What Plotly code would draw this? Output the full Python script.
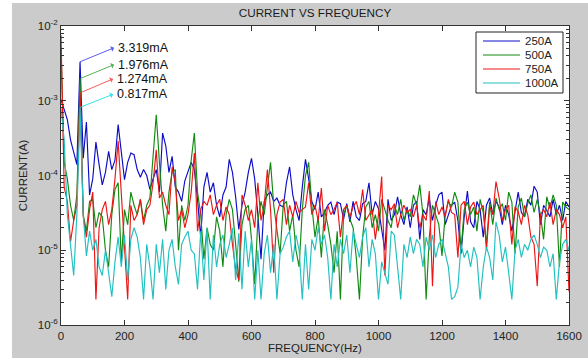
import math
import plotly.graph_objects as go

# ---------------- data (currents in microamps, 10 Hz steps) ----------------
freq_hz = list(range(0, 1601, 10))
series_names = ["250A", "500A", "750A", "1000A"]

blue_uA = [
    1040, 780, 560, 300, 200, 140, 3319, 170, 520, 55,
    90, 280, 140, 75, 110, 210, 120, 160, 480, 200,
    88, 150, 200, 190, 120, 95, 120, 100, 65, 90,
    120, 60, 370, 250, 110, 180, 70, 60, 45, 85,
    110, 150, 120, 48, 15, 70, 110, 60, 80, 40,
    28, 55, 70, 164, 110, 52, 19, 40, 60, 110,
    170, 90, 30, 7.6, 45, 55, 60, 45, 50, 40,
    38, 80, 130, 55, 35, 25, 70, 164, 90, 45,
    35, 60, 28, 32, 40, 44, 30, 44, 42, 26,
    42, 24, 45, 28, 25, 42, 45, 80, 30, 45,
    36, 18, 10, 48, 25, 30, 52, 30, 22, 38,
    20, 40, 45, 14, 35, 30, 50, 25, 40, 55,
    60, 22, 30, 40, 44, 25, 9, 28, 62, 24,
    20, 45, 35, 15, 40, 50, 30, 45, 38, 22,
    40, 30, 18, 35, 60, 32, 28, 48, 40, 72,
    60, 22, 40, 34, 28, 48, 30, 40, 25, 45,
    38]

green_uA = [
    5100, 150, 90, 40, 25, 55, 1976, 30, 18, 45,
    48, 20, 32, 28, 10, 6, 30, 65, 80, 7,
    35, 22, 60, 40, 30, 48, 25, 40, 50, 200,
    650, 150, 40, 18, 60, 110, 120, 10, 40, 25,
    40, 160, 370, 60, 30, 7.6, 20, 12, 10, 28,
    18, 6, 30, 48, 35, 12, 3.8, 22, 35, 40,
    14, 3.5, 25, 45, 30, 70, 150, 40, 20, 9,
    40, 45, 18, 30, 10, 6, 35, 100, 150, 40,
    15, 28, 8, 35, 22, 12, 5, 18, 2.2, 30,
    40, 26, 20, 8, 2.2, 15, 38, 45, 20, 30,
    18, 48, 35, 25, 20, 40, 30, 48, 25, 35,
    28, 55, 40, 75, 30, 2.2, 15, 40, 30, 22,
    8.4, 30, 45, 38, 60, 44, 10, 35, 44, 30,
    38, 18, 48, 32, 12, 44, 22, 50, 35, 42,
    25, 60, 44, 9, 38, 50, 28, 42, 55, 32,
    48, 30, 14, 52, 36, 55, 40, 6, 44, 38,
    35]

red_uA = [
    7600, 70, 45, 13, 25, 40, 1274, 28, 15, 35,
    60, 2.2, 20, 35, 45, 22, 35, 90, 290, 60,
    12, 2.2, 40, 25, 30, 48, 22, 35, 40, 80,
    220, 50, 60, 40, 30, 130, 80, 25, 35, 20,
    30, 60, 200, 18, 35, 45, 40, 55, 30, 40,
    48, 25, 38, 30, 12, 5.6, 4, 55, 40, 25,
    35, 20, 80, 25, 40, 120, 35, 5, 30, 44,
    48, 22, 40, 28, 45, 32, 35, 38, 80, 30,
    40, 25, 68, 18, 40, 30, 35, 44, 15, 35,
    40, 28, 38, 45, 30, 65, 25, 30, 35, 14,
    30, 97, 4.6, 40, 35, 42, 20, 30, 40, 32,
    35, 28, 40, 20, 30, 25, 62, 3.3, 45, 30,
    38, 28, 48, 32, 30, 8, 40, 45, 22, 38,
    44, 30, 35, 40, 10, 38, 30, 83, 50, 25,
    35, 40, 12, 38, 33, 22, 40, 30, 15, 12,
    3.3, 30, 35, 28, 44, 22, 35, 30, 20, 28,
    2.8]

cyan_uA = [
    800, 300, 30, 12, 4.6, 30, 817, 30, 8.4, 18,
    10, 14, 6, 4.6, 10, 5, 2.4, 7, 15, 6,
    16, 4, 14, 20, 15, 8, 2.2, 12, 6, 2.2,
    12, 5, 14, 3, 10, 14, 6, 3.5, 12, 15,
    18, 10, 9, 3, 18, 4, 20, 2.2, 16, 6,
    12, 16, 8, 12, 20, 4, 17, 3, 18, 6,
    14, 2.2, 10, 2.2, 9, 16, 5, 12, 2.2, 9,
    11, 15, 18, 7, 16, 10, 2.2, 12, 3, 14,
    10, 20, 12, 16, 8, 2.2, 12, 6, 14, 9,
    16, 5, 18, 12, 8, 15, 20, 6, 14, 9,
    2.2, 7, 5, 3.5, 18, 16, 6, 2.2, 12, 8,
    15, 9, 14, 12, 6, 15, 10, 16, 8, 12,
    14, 9, 6, 2.2, 2.4, 3.2, 12, 8, 10, 6,
    11, 8, 2.2, 6, 11, 8, 4, 24, 16, 7,
    11, 5, 2.2, 10, 14, 8, 12, 10, 14, 16,
    12, 8, 11, 10, 6, 9, 2.2, 7, 12, 14,
    10]

peak_freq_hz = 60          # fundamental peak position on the 10 Hz grid
x_tick_vals = list(range(0, 1601, 200))
y_decades = [-6, -5, -4, -3, -2]

# ---------------- styling / layout ----------------
colors = ["#0c0cc8", "#118a11", "#ee1515", "#22c0c0"]
arrow_colors = ["rgba(40,40,230,0.75)", "rgba(30,150,30,0.75)",
                "rgba(250,40,40,0.75)", "rgba(20,220,230,0.85)"]
FONT = "Liberation Sans, Arial, sans-serif"
W, H = 588, 358
L, R, T, B = 61, 569, 26, 325


def px_x(px):
    return (px - L) / (R - L)


def px_y(py):
    return (B - py) / (B - T)


series_uA = [blue_uA, green_uA, red_uA, cyan_uA]
for s in series_uA:
    assert len(s) == len(freq_hz), len(s)

fig = go.Figure()
for name, vals, col in zip(series_names, series_uA, colors):
    fig.add_trace(go.Scatter(
        x=freq_hz, y=[v * 1e-6 for v in vals], mode="lines", name=name,
        line=dict(color=col, width=1.15), showlegend=False))

# peak annotations: arrow from the peak to the label
peak_idx = freq_hz.index(peak_freq_hz)
arrow_dx = [34, 34, 33, 33]
arrow_dy = [-14, -14, -14, -13]
annotations = []
for i, vals in enumerate(series_uA):
    v = vals[peak_idx] * 1e-6
    annotations.append(dict(
        x=peak_freq_hz, y=math.log10(v), xref="x", yref="y",
        text=f"{v * 1000:.3f}mA", showarrow=True,
        ax=arrow_dx[i], ay=arrow_dy[i], xanchor="left", yanchor="middle",
        arrowside="start", arrowhead=1, arrowsize=1.5, arrowwidth=1,
        arrowcolor=arrow_colors[i], standoff=0, startstandoff=0, borderpad=3,
        font=dict(family=FONT, size=12.5, color="#111111")))

# manual legend (MATLAB-style compact box)
shapes = [
    dict(type="rect", xref="paper", yref="paper", x0=px_x(0), x1=px_x(12),
         y0=px_y(H), y1=px_y(0), fillcolor="white", line=dict(width=0), layer="below"),
    dict(type="rect", xref="paper", yref="paper", x0=px_x(0), x1=px_x(W),
         y0=px_y(3), y1=px_y(0), fillcolor="white", line=dict(width=0), layer="below"),
    dict(type="rect", xref="paper", yref="paper", x0=px_x(476), x1=px_x(563),
         y0=px_y(93), y1=px_y(32), fillcolor="white",
         line=dict(color="#222222", width=1), layer="above"),
]
legend_rows = [41, 55, 69, 83]
for name, col, ry in zip(series_names, colors, legend_rows):
    shapes.append(dict(type="line", xref="paper", yref="paper",
                       x0=px_x(483), x1=px_x(520), y0=px_y(ry), y1=px_y(ry),
                       line=dict(color=col, width=1), layer="above"))
    annotations.append(dict(xref="paper", yref="paper", x=px_x(523), y=px_y(ry),
                            text=name, showarrow=False, xanchor="left", yanchor="middle",
                            font=dict(family=FONT, size=11.5, color="#222222")))

minor_vals = [k * 10 ** e for e in range(-6, -2) for k in range(2, 10)]

fig.update_layout(
    width=W, height=H, autosize=False,
    margin=dict(l=L, r=W - R, t=T, b=H - B, pad=0),
    paper_bgcolor="#cbcbcb", plot_bgcolor="white",
    font=dict(family=FONT, size=11.5, color="#222222"),
    title=dict(text="CURRENT VS FREQUENCY", x=0.5, xref="paper", xanchor="center",
               y=1 - 13 / H, yref="container", yanchor="middle",
               font=dict(family=FONT, size=11.7, color="#1a1a1a")),
    xaxis=dict(range=[0, 1600], tickvals=x_tick_vals, ticks="inside", ticklen=5,
               tickcolor="#333333", showline=True, linecolor="#333333", linewidth=1,
               mirror="ticks", showgrid=False, zeroline=False, automargin=False,
               tickfont=dict(family=FONT, size=11.5, color="#222222"),
               title=dict(text="FREQUENCY(Hz)", standoff=1,
                          font=dict(family=FONT, size=11.5, color="#222222"))),
    yaxis=dict(type="log", range=[-6, -2], tickvals=[10 ** d for d in y_decades],
               ticktext=[f"10<sup>{d}</sup>" for d in y_decades],
               ticks="inside", ticklen=5, tickcolor="#333333",
               minor=dict(tickvals=minor_vals, ticks="inside", ticklen=3,
                          tickcolor="#333333", showgrid=False),
               showline=True, linecolor="#333333", linewidth=1, mirror="ticks",
               showgrid=False, zeroline=False, automargin=False,
               tickfont=dict(family=FONT, size=11.5, color="#222222"),
               title=dict(text="CURRENT(A)", standoff=7,
                          font=dict(family=FONT, size=11.5, color="#222222"))),
    shapes=shapes,
    annotations=annotations,
    showlegend=False,
)

fig.write_html(
    "out.html",
    config={"displayModeBar": False},
    post_script="document.documentElement.style.margin='0';"
                "document.body.style.margin='0';document.body.style.padding='0';"
                "document.body.style.overflow='hidden';",
)
